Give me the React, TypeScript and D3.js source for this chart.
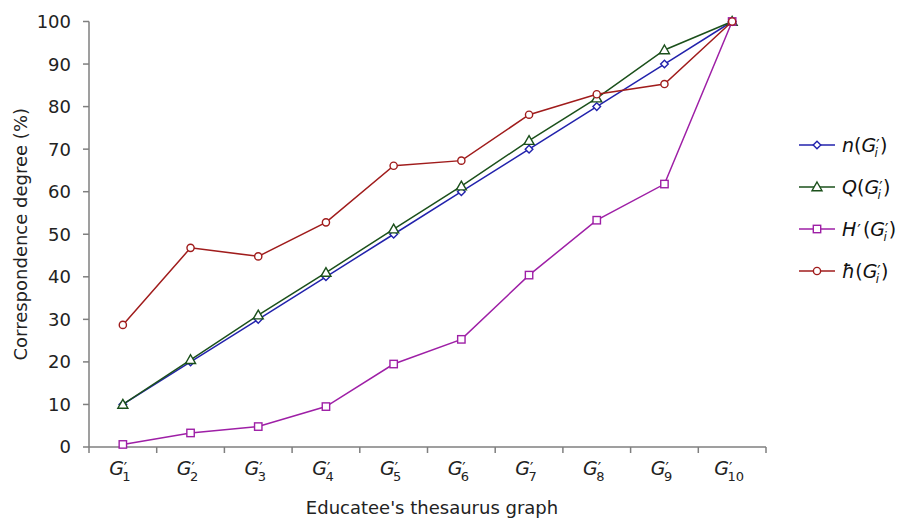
import React from "react";
import * as d3 from "d3";

const categories = ["1", "2", "3", "4", "5", "6", "7", "8", "9", "10"];
const seriesN = [10, 20, 30, 40, 50, 60, 70, 80, 90, 100];
const seriesQ = [10, 20.5, 31, 41, 51.2, 61.3, 72, 82, 93.3, 100];
const seriesH1 = [0.6, 3.3, 4.8, 9.5, 19.5, 25.3, 40.4, 53.3, 61.8, 100];
const seriesHsmall = [28.7, 46.8, 44.8, 52.8, 66.1, 67.3, 78.1, 82.9, 85.3, 100];
const yTicks = [0, 10, 20, 30, 40, 50, 60, 70, 80, 90, 100];

const series = [
  { key: "n", name: "n", prime: false, values: seriesN, color: "#2222ac", marker: "diamond" },
  { key: "Q", name: "Q", prime: false, values: seriesQ, color: "#1b501b", marker: "triangle" },
  { key: "H", name: "H", prime: true, values: seriesH1, color: "#9e1fa6", marker: "square" },
  { key: "h", name: "ħ", prime: false, values: seriesHsmall, color: "#a01c1c", marker: "circle" },
];

const W = 911, H = 521;
const left = 89, right = 766, top = 21.5, bottom = 447;
const FONT = "'DejaVu Sans', Verdana, sans-serif";
const AXIS = "#7f7f7f";

function Marker({ type, x, y, color }: { type: string; x: number; y: number; color: string }) {
  if (type === "diamond") {
    const s = 3.8;
    return <path d={`M${x},${y - s}L${x + s},${y}L${x},${y + s}L${x - s},${y}Z`} fill="white" stroke={color} strokeWidth={1.4} />;
  }
  if (type === "triangle") {
    const s = 5;
    return <path d={`M${x},${y - s}L${x + s},${y + s * 0.75}L${x - s},${y + s * 0.75}Z`} fill="white" stroke={color} strokeWidth={1.4} />;
  }
  if (type === "square") {
    const s = 3.7;
    return <rect x={x - s} y={y - s} width={2 * s} height={2 * s} fill="white" stroke={color} strokeWidth={1.4} />;
  }
  return <circle cx={x} cy={y} r={3.6} fill="white" stroke={color} strokeWidth={1.4} />;
}

export default function App() {
  const x = d3.scaleBand<string>().domain(categories).range([left, right]);
  const y = d3.scaleLinear().domain([0, 100]).range([bottom, top]);
  const cx = (c: string) => (x(c) as number) + x.bandwidth() / 2;
  const line = d3.line<number>().x((_, i) => cx(categories[i])).y((v) => y(v));

  const legendY = [145, 187, 229, 271];

  return (
    <svg width={W} height={H} style={{ position: "absolute", left: 0, top: 0, background: "white" }} fontFamily={FONT}>
      <rect width={W} height={H} fill="white" />
      {/* y axis */}
      <line x1={left} x2={left} y1={top} y2={bottom} stroke={AXIS} strokeWidth={1.5} />
      {yTicks.map((t) => (
        <g key={t}>
          <line x1={left - 6} x2={left} y1={y(t)} y2={y(t)} stroke={AXIS} strokeWidth={1.5} />
          <text x={71} y={y(t)} dy="0.36em" textAnchor="end" fontSize={18} fill="#222">{t}</text>
        </g>
      ))}
      {/* x axis */}
      <line x1={left} x2={right} y1={bottom} y2={bottom} stroke={AXIS} strokeWidth={1.5} />
      {[...categories.map((c) => x(c) as number), right].map((px, i) => (
        <line key={i} x1={px} x2={px} y1={bottom} y2={bottom + 6} stroke={AXIS} strokeWidth={1.5} />
      ))}
      {categories.map((c) => (
        <text key={c} x={cx(c) - 3} y={475} textAnchor="middle" fontSize={19} fill="#222">
          <tspan fontStyle="italic">G</tspan>
          <tspan fontSize={15} dy={-1}>′</tspan>
          <tspan fontSize={13} dy={7} dx={-5}>{c}</tspan>
        </text>
      ))}
      <text x={432} y={514} textAnchor="middle" fontSize={18} fill="#222">Educatee's thesaurus graph</text>
      <text transform={`translate(27,${(top + bottom) / 2}) rotate(-90)`} textAnchor="middle" fontSize={18} fill="#222">
        Correspondence degree (%)
      </text>

      {/* series */}
      {series.map((s) => (
        <g key={s.key}>
          <path d={line(s.values) || ""} fill="none" stroke={s.color} strokeWidth={1.5} />
          {s.values.map((v, i) => (
            <Marker key={i} type={s.marker} x={cx(categories[i])} y={y(v)} color={s.color} />
          ))}
        </g>
      ))}

      {/* legend */}
      {series.map((s, i) => (
        <g key={s.key}>
          <line x1={799} x2={835} y1={legendY[i]} y2={legendY[i]} stroke={s.color} strokeWidth={1.6} />
          <Marker type={s.marker} x={817} y={legendY[i]} color={s.color} />
          <text x={842} y={legendY[i] + 7} fontSize={19} fill="#111">
            <tspan fontStyle="italic">{s.name}</tspan>
            {s.prime ? <tspan fontSize={16} dx={1}>′</tspan> : null}
            <tspan dx={s.prime ? 2 : 0}>(</tspan>
            <tspan fontStyle="italic">G</tspan>
            <tspan fontSize={15} dy={-1}>′</tspan>
            <tspan fontSize={12} fontStyle="italic" dy={6} dx={-5}>i</tspan>
            <tspan dy={-5} dx={2}>)</tspan>
          </text>
        </g>
      ))}
    </svg>
  );
}
